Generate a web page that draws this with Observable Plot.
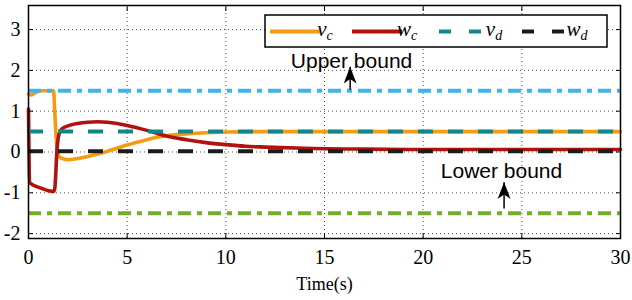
<!DOCTYPE html>
<html><head><meta charset="utf-8">
<script src="https://cdn.jsdelivr.net/npm/d3@7"></script>
<script src="https://cdn.jsdelivr.net/npm/@observablehq/plot@0.6"></script>
<style>body{margin:0;background:#fff}#chart{width:632px;height:300px}</style>
</head><body><div id="chart"></div>
<script>
// ---- data ----
const vcTime  = [0, 0.15, 0.4, 0.6, 1.27, 1.32, 1.4, 1.5, 1.6, 1.8, 2.0, 2.5, 3.0, 3.5, 4.0, 5.0, 6.0, 6.5, 7.0, 8.0, 9.0, 10, 12, 15, 20, 30];
const vcValue = [1.42, 1.40, 1.47, 1.5, 1.5, 1.1, 0.35, -0.06, -0.13, -0.17, -0.19, -0.16, -0.11, -0.05, 0.02, 0.17, 0.30, 0.36, 0.40, 0.44, 0.47, 0.49, 0.5, 0.5, 0.5, 0.5];
const wcTime  = [0, 0.06, 0.2, 0.6, 1.0, 1.25, 1.33, 1.45, 1.55, 1.7, 2.0, 2.5, 3.0, 3.5, 4.0, 5.0, 6.0, 6.5, 7.0, 8.0, 9.0, 10, 11, 12, 14, 17, 20, 30];
const wcValue = [1.05, -0.75, -0.8, -0.88, -0.95, -0.97, -0.9, 0.1, 0.45, 0.57, 0.64, 0.70, 0.73, 0.74, 0.73, 0.65, 0.53, 0.46, 0.39, 0.30, 0.23, 0.18, 0.14, 0.12, 0.09, 0.07, 0.06, 0.06];
const refNames  = ["v_d", "w_d", "Upper bound", "Lower bound"];
const refValues = [0.5, 0.02, 1.5, -1.5];
const annotLabels = ["Upper bound", "Lower bound"];
const annotTextX  = [16.37, 23.97];
const annotTextY  = [2.23, -0.476];
const arrowX      = [16.3, 24.1];
const arrowFromY  = [1.53, -1.385];
const arrowToY    = [2.09, -0.74];
const xTicks = [0, 5, 10, 15, 20, 25, 30];
const yTicks = [-2, -1, 0, 1, 2, 3];

// ---- tables ----
const vc = vcTime.map((t, i) => ({t, v: vcValue[i]}));
const wc = wcTime.map((t, i) => ({t, v: wcValue[i]}));
const refs = refNames.map((name, i) => ({name, value: refValues[i]}));
const annots = annotLabels.map((label, i) => ({label, tx: annotTextX[i], ty: annotTextY[i], ax: arrowX[i], y1: arrowFromY[i], y2: arrowToY[i]}));

const refStyle = {
  "v_d": {stroke: "#12878b", dash: "15,15"},
  "w_d": {stroke: "#1c1c1c", dash: "15,15"},
  "Upper bound": {stroke: "#3db5ec", dash: "13,6,5,6"},
  "Lower bound": {stroke: "#74ac2c", dash: "13,6,5,6"}
};
const orange = "#f39c12", red = "#b0120e";

const arrowHead = {
  draw(ctx, size) {
    const s = Math.sqrt(size / Math.PI) / 7;
    ctx.moveTo(0, 0);
    ctx.lineTo(5 * s, 13 * s);
    ctx.lineTo(0, 9.5 * s);
    ctx.lineTo(-5 * s, 13 * s);
    ctx.closePath();
  }
};

const serif = "Liberation Serif, Times New Roman, serif";
const sans = "Liberation Sans, Arial, sans-serif";

const plot = Plot.plot({
  width: 632, height: 300,
  marginLeft: 28, marginRight: 12, marginTop: 5, marginBottom: 62,
  style: {fontFamily: serif, fontSize: "20px", color: "#000", background: "#fff"},
  x: {domain: [0, 30]},
  y: {domain: [-2.12, 3.59]},
  marks: [
    Plot.gridX(xTicks.slice(1, -1), {stroke: "#333", strokeOpacity: 0.85, strokeDasharray: "1,3"}),
    Plot.gridY(yTicks, {stroke: "#333", strokeOpacity: 0.85, strokeDasharray: "1,3"}),
    Plot.line(vc, {x: "t", y: "v", stroke: orange, strokeWidth: 3.6, curve: "monotone-x"}),
    Plot.line(wc, {x: "t", y: "v", stroke: red, strokeWidth: 3.6, curve: "monotone-x"}),
    ...refs.map(r => Plot.ruleY([r], {y: "value", stroke: refStyle[r.name].stroke, strokeWidth: 4, strokeDasharray: refStyle[r.name].dash})),
    Plot.link(annots, {x1: "ax", x2: "ax", y1: "y1", y2: "y2", stroke: "#000", strokeWidth: 1.5}),
    Plot.dot(annots, {x: "ax", y: "y2", symbol: arrowHead, r: 9, fill: "#000", stroke: null}),
    Plot.text(annots, {x: "tx", y: "ty", text: "label", fontFamily: sans, fontSize: 21, fill: "#000"}),
    Plot.frame({stroke: "#000", strokeWidth: 1.5}),
    Plot.axisX({ticks: xTicks, anchor: "bottom", tickSize: 0, tickPadding: 11, tickFormat: d => String(d), label: null, fontSize: 20, fontFamily: serif}),
    Plot.axisX({ticks: xTicks, anchor: "bottom", tickSize: 5, dy: -5, tickFormat: () => "", label: null}),
    Plot.axisX({ticks: xTicks, anchor: "top", tickSize: 5, dy: 5, tickFormat: () => "", label: null}),
    Plot.axisY({ticks: yTicks, anchor: "left", tickSize: 0, tickPadding: 8, tickFormat: d => String(d), label: null, fontSize: 20, fontFamily: serif}),
    Plot.axisY({ticks: yTicks, anchor: "left", tickSize: 5, dx: 5, tickFormat: () => "", label: null}),
    Plot.axisY({ticks: yTicks, anchor: "right", tickSize: 5, dx: -5, tickFormat: () => "", label: null}),
    Plot.text(["Time(s)"], {frameAnchor: "bottom", dy: 51, lineAnchor: "bottom", fontSize: 18, fontFamily: serif})
  ]
});
document.getElementById("chart").appendChild(plot);

// make sure tick labels use the serif face at the intended size
d3.select(plot).selectAll('g[aria-label="x-axis tick label"], g[aria-label="y-axis tick label"]')
  .attr("font-family", serif).attr("font-size", 20)
  .selectAll("text").attr("font-family", serif).attr("font-size", 20);

// ---- legend (inside the frame, top right) ----
const legendNames = ["v", "w", "v", "w"];
const legendSubs  = ["c", "c", "d", "d"];
const legendColors = [orange, red, refStyle["v_d"].stroke, refStyle["w_d"].stroke];
const legendDash = [null, null, "12,18", "12,18"];
const svg = d3.select(plot);
const g = svg.append("g");
g.append("rect").attr("x", 265).attr("y", 15).attr("width", 342).attr("height", 32)
  .attr("fill", "#fff").attr("stroke", "#000").attr("stroke-width", 1.5);
const itemX = [270, 352, 439, 522];
legendNames.forEach((n, i) => {
  const x0 = itemX[i];
  g.append("line").attr("x1", x0).attr("x2", x0 + 50).attr("y1", 31.5).attr("y2", 31.5)
    .attr("stroke", legendColors[i]).attr("stroke-width", 4)
    .attr("stroke-dasharray", legendDash[i]);
  const t = g.append("text").attr("x", x0 + 55).attr("y", 36)
    .attr("font-family", serif).attr("font-style", "italic").attr("font-size", 21).attr("fill", "#000");
  t.append("tspan").text(n);
  t.append("tspan").attr("dy", 4).attr("font-size", 14).text(legendSubs[i]);
});
</script></body></html>
